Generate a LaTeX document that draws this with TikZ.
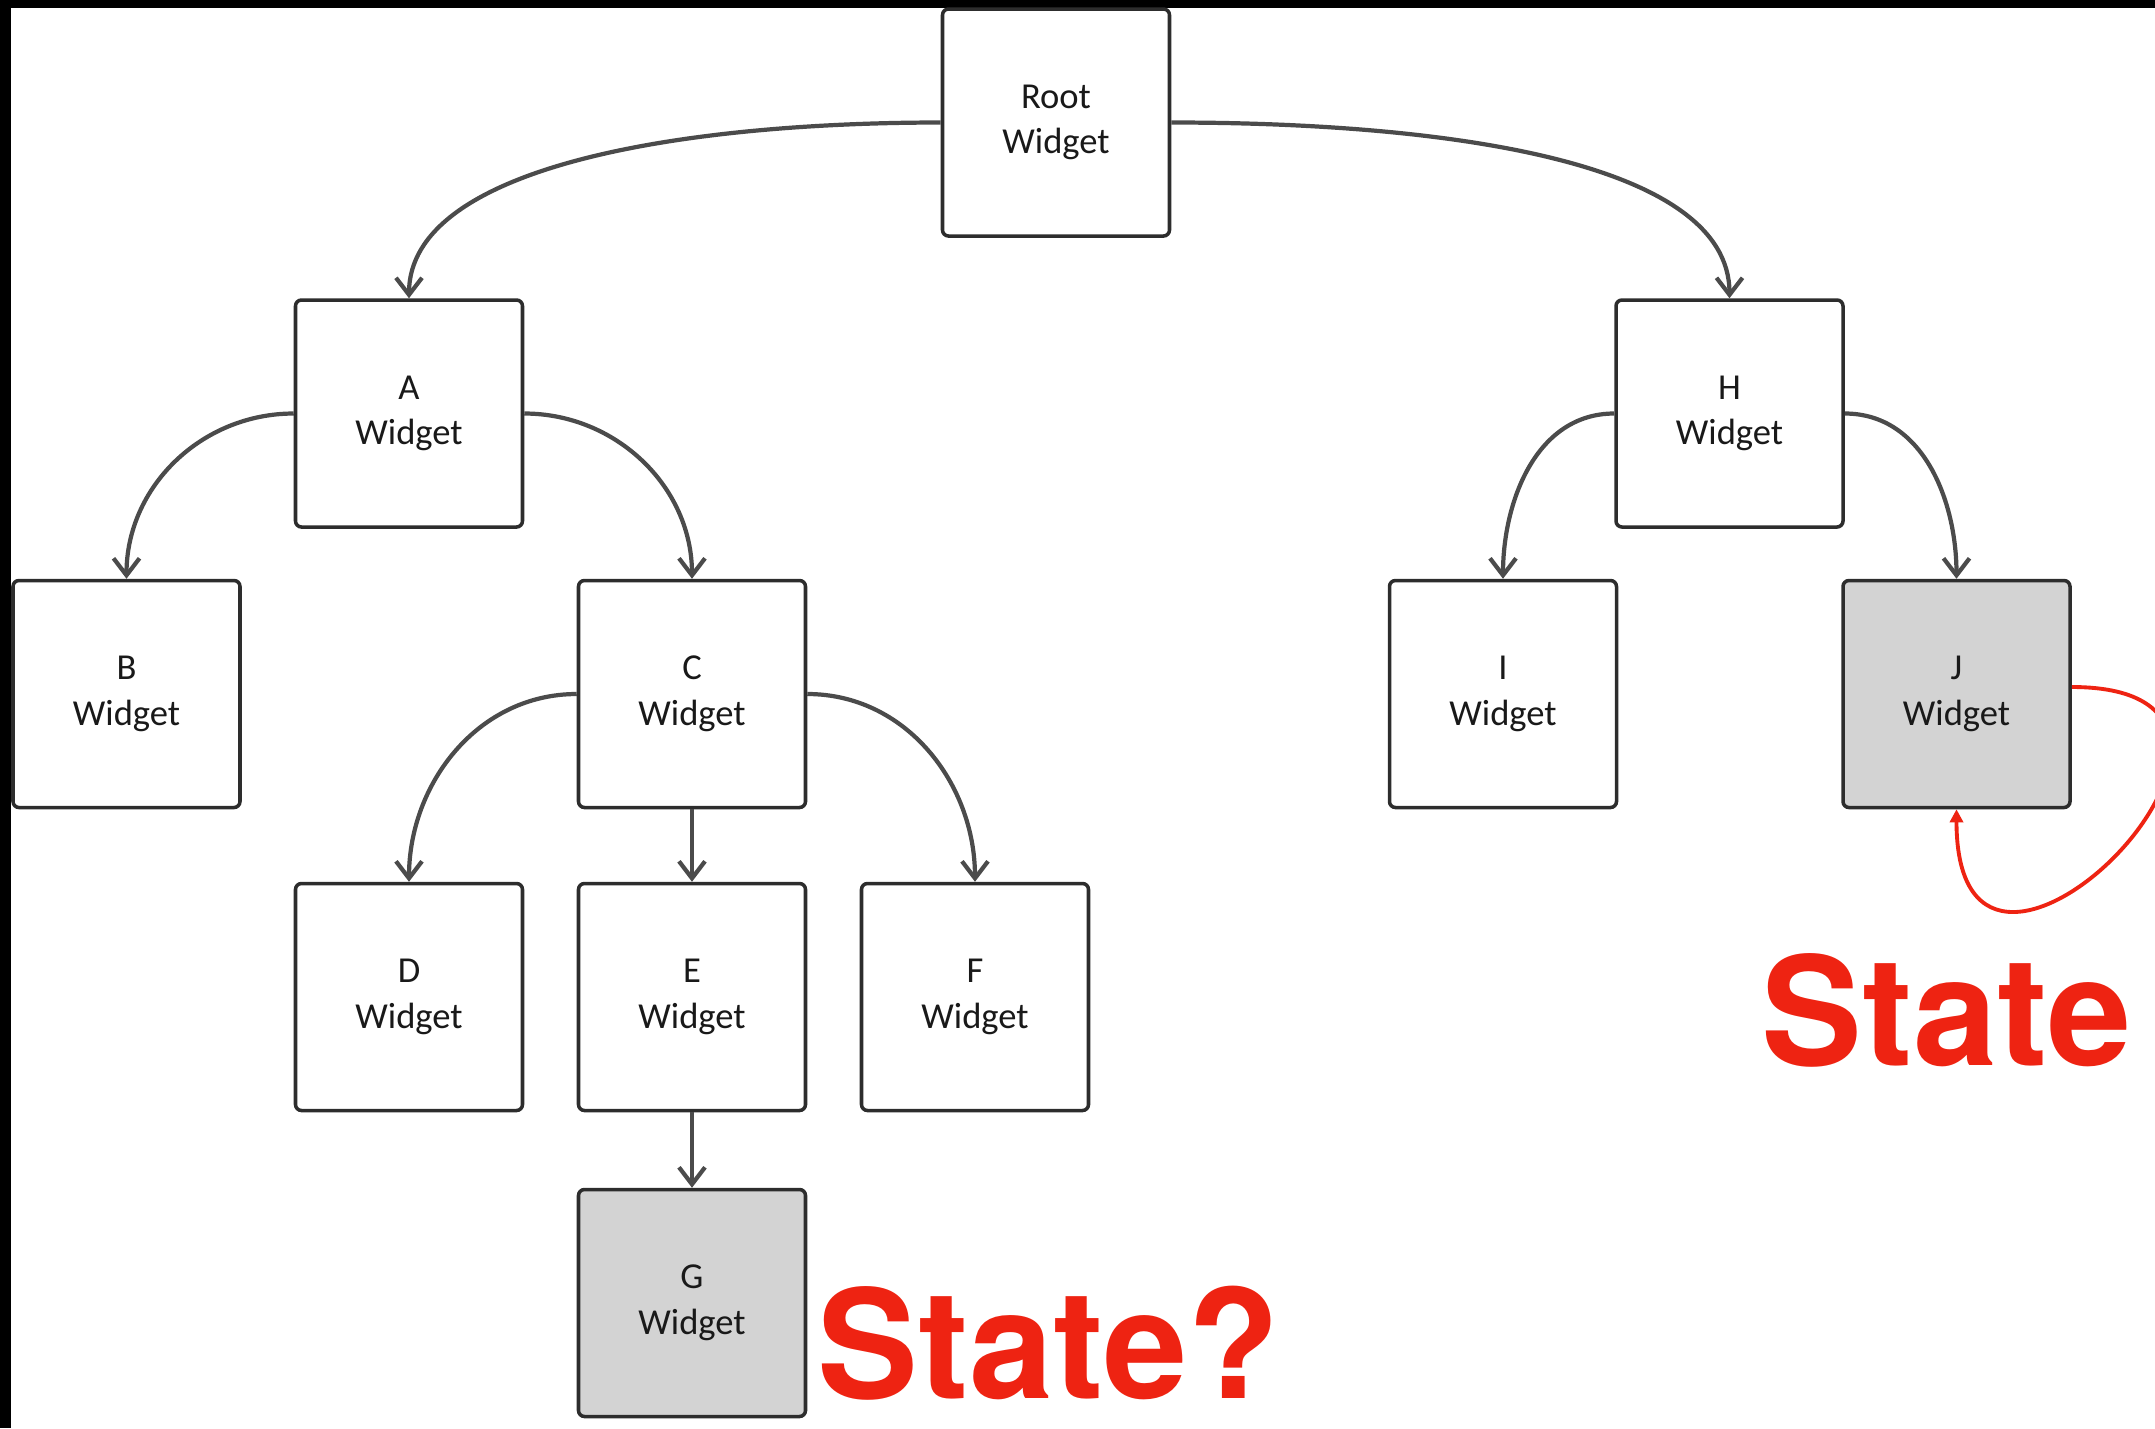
\documentclass[tikz,border=0pt]{standalone}
\usepackage{fontspec}
\setmainfont{Carlito}
\newfontfamily\bigfont{TeX Gyre Heros}
\usetikzlibrary{arrows.meta}
\definecolor{edge}{RGB}{75,75,75}
\definecolor{boxline}{RGB}{45,45,45}
\definecolor{shade}{RGB}{211,211,211}
\definecolor{alert}{RGB}{238,35,18}

\begin{document}
\begin{tikzpicture}[node distance={28.3mm}, line width=1pt,
    main/.style = {draw=boxline, line width=1pt, rounded corners=0.6mm, minimum size=22.7mm, align=center, text=black!90, font=\fontsize{10.4}{13}\selectfont},
    kept/.style = {main, fill=shade},
    link/.style = {draw=edge, line width=1.2pt, -{Straight Barb[length=1.7mm,width=2.6mm]}},
    big/.style = {text=alert, inner sep=0pt, font=\bigfont\bfseries\fontsize{43}{43}\selectfont}]
    \useasboundingbox (0,0) rectangle (21.55,-14.28);
    \fill (0,0) rectangle (21.55,-0.08);
    \fill (0,0) rectangle (0.11,-14.28);
    \node[main] (Root) at (10.56,-1.225) {Root\\Widget};
    \node[main] (D) at (4.09,-9.97) {D\\Widget};
    \node[main] (E) [right of=D] {E\\Widget};
    \node[main] (F) [right of=E] {F\\Widget};
    \node[kept] (G) [node distance=30.6mm, below of=E] {G\\Widget};
    \node[main] (C) [node distance=30.3mm, above of=E] {C\\Widget};
    \node[main] (A) [node distance=58.35mm, above of=D] {A\\Widget};
    \node[main] (B) [node distance=56.55mm, left of=C] {B\\Widget};
    \node[main] (H) at (17.295,-4.135) {H\\Widget};
    \node[main] (I) [node distance=28.05mm, below of=H, xshift=-22.65mm] {I\\Widget};
    \node[kept] (J) [node distance=45.35mm, right of=I] {J\\Widget};
    \node[big, anchor=base west] (stateG) at (8.16,-13.98) {State?};
    \node[big, anchor=base west] (stateJ) at (17.60,-10.65) {State};
    \draw[link] (Root.west) to[out=180, in=90, out looseness=1.2, in looseness=0.6] (A.north);
    \draw[link] (Root.east) to[out=0, in=90, out looseness=1.2, in looseness=0.6] (H.north);
    \draw[link] (A.west) to[out=180, in=90] (B.north);
    \draw[link] (A.east) to[out=0, in=90] (C.north);
    \draw[link] (C.west) to[out=180, in=90] (D.north);
    \draw[link] (C) -- (E);
    \draw[link] (C.east) to[out=0, in=90] (F.north);
    \draw[link] (E) -- (G);
    \draw[link] (H.west) to[out=180, in=90] (I.north);
    \draw[link] (H.east) to[out=0, in=90] (J.north);
    \draw[alert, line width=1.1pt, -{Triangle[length=1.3mm,width=1.3mm]}] ([yshift=0.7mm]J.east) to[out=0, in=-90, looseness=4.2] (J.south);
\end{tikzpicture}
\end{document}
